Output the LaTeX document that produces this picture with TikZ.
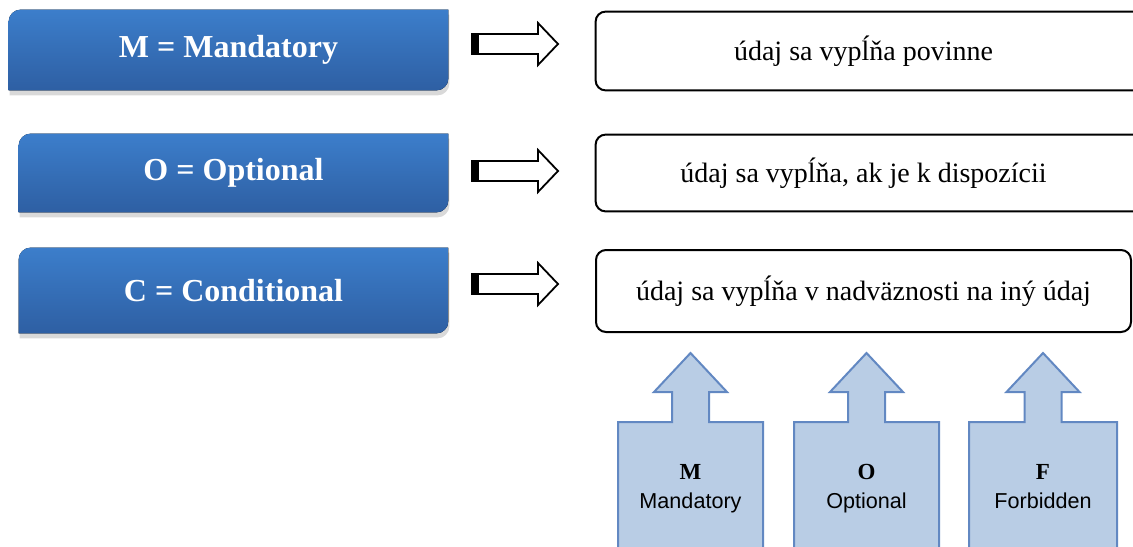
\documentclass[tikz,border=0pt]{standalone}
\usepackage{fontspec}
\setmainfont{Liberation Serif}
\setsansfont{Liberation Sans}
\usepackage{xcolor}
\usetikzlibrary{backgrounds}
\usetikzlibrary{shadows}

\definecolor{bartop}{RGB}{60,126,203}
\definecolor{barbot}{RGB}{46,95,163}
\definecolor{callfill}{RGB}{185,205,229}
\definecolor{callline}{RGB}{98,136,194}

\begin{document}
\begin{tikzpicture}[
    x=0.5pt, y=-0.5pt,
    bar/.style={
        text=white,
        font=\fontsize{16}{19}\selectfont\bfseries,
        minimum height=40pt
    },
    barfill/.style={
        top color=bartop,
        bottom color=barbot,
        drop shadow={shadow xshift=0.5pt, shadow yshift=-2.5pt, opacity=0.3}
    },
    infobox/.style={
        font=\fontsize{14}{17}\selectfont,
        minimum width=267.5pt
    },
    boxline/.style={
        line width=1pt,
        rounded corners=5pt
    },
    blockarr/.style={
        draw,
        line width=0.9pt,
        fill=white
    },
    call/.style={
        fill=callfill,
        draw=callline,
        line width=1pt
    }
]
\useasboundingbox (0,0) rectangle (1133,546);

% Left bars
\node[bar, minimum width=219.5pt] (mand) at (228.5,50) {M = Mandatory};
\node[bar, minimum width=214.5pt, minimum height=39pt] (opt) at (233.5,173) {O = Optional};
\node[bar, minimum width=214.5pt, minimum height=42.5pt] (cond) at (233.5,290.5) {C = Conditional};

\begin{scope}[on background layer]
\foreach \n in {mand,opt,cond}
    \fill[barfill]
        (\n.south west) --
        ([yshift=-6pt]\n.north west)
        arc[start angle=180, end angle=90, radius=6pt] --
        (\n.north east) --
        ([yshift=6pt]\n.south east)
        arc[start angle=0, end angle=-90, radius=6pt] --
        cycle;
\end{scope}

% Right boxes
\node[infobox, minimum height=39pt] (mtxt) at (863.5,51) {údaj sa vypĺňa povinne};
\node[infobox, minimum height=38pt] (otxt) at (863.5,173) {údaj sa vypĺňa, ak je k dispozícii};
\node[infobox, minimum height=41pt, draw, boxline] (ctxt) at (863.5,291) {údaj sa vypĺňa v nadväznosti na iný údaj};

\foreach \n in {mtxt,otxt}
    \draw[boxline]
        ([xshift=20pt]\n.north east) --
        (\n.north west) --
        (\n.south west) --
        ([xshift=20pt]\n.south east);

% Block arrows
\foreach \y/\n in {44/a1,171/a2,284/a3} {
    \coordinate (\n) at (472,\y);
    \draw[blockarr]
        (\n) ++(0,-10) -- ++(66,0) -- ++(0,-11) --
        (558,\y) -- (538,\y+21) -- ++(0,-11) --
        ++(-66,0) -- cycle;
    \fill (\n) ++(0,-10) rectangle ++(7,20);
}

% Up callouts
\foreach \cx/\w/\nm/\ab/\lab in {
    690.5/72.5/cm/M/Mandatory,
    866.5/72.5/co/O/Optional,
    1043/74/cf/F/Forbidden} {
    \draw[call]
        (\cx-\w,560) -- (\cx-\w,422) --
        (\cx-18.5,422) -- (\cx-18.5,392) --
        (\cx-36.5,392) -- (\cx,353) --
        (\cx+36.5,392) -- (\cx+18.5,392) --
        (\cx+18.5,422) -- (\cx+\w,422) --
        (\cx+\w,560);
    \node[font=\fontsize{11.5}{14.5}\selectfont, align=center]
        (\nm) at (\cx,488) {\strut\textbf{\ab}\\{\sffamily\fontsize{10.8}{14.5}\selectfont\strut\lab}};
}

\end{tikzpicture}
\end{document}
